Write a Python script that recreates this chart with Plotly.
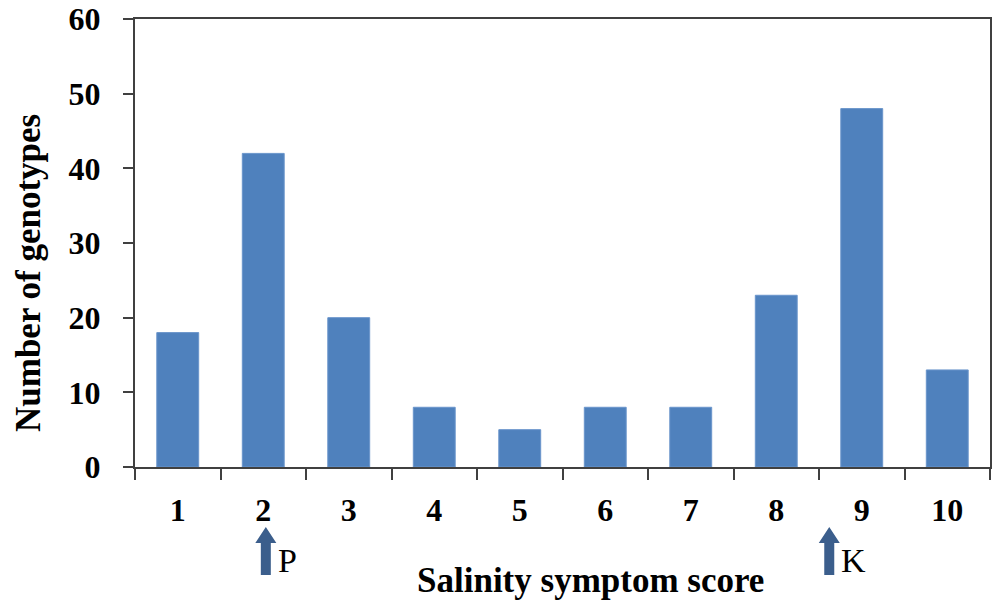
import plotly.graph_objects as go

scores = ["1", "2", "3", "4", "5", "6", "7", "8", "9", "10"]
genotypes = [18, 42, 20, 8, 5, 8, 8, 23, 48, 13]
y_ticks = [0, 10, 20, 30, 40, 50, 60]
parents = ["P", "K"]
parent_pos = [1.03, 7.62]  # category index positions under the axis

FONT = "Liberation Serif"
LINE = "#404040"
ARROW = "#3B5E8C"

fig = go.Figure()
fig.add_trace(go.Bar(
    x=scores, y=genotypes,
    marker=dict(color="#4F81BD", line=dict(color="#6A95CB", width=1)),
))

W, H = 1000, 610
L, R, T, B = 135, 10, 19, 143
pw, ph = W - L - R, H - T - B

def py(pix):
    return (H - B - pix) / ph

shapes = []
annotations = []
xper = len(scores) / pw  # data units per pixel
for name, xp in zip(parents, parent_pos):
    hs, hh = 5 * xper, 10.5 * xper
    tip, base, bot = py(527), py(543), py(575)
    path = (f"M {xp-hs} {bot} L {xp-hs} {base} L {xp-hh} {base} L {xp} {tip} "
            f"L {xp+hh} {base} L {xp+hs} {base} L {xp+hs} {bot} Z")
    shapes.append(dict(type="path", xref="x", yref="paper", path=path,
                       fillcolor=ARROW, line=dict(width=0)))
    annotations.append(dict(x=xp + 10 * xper, y=py(560), xref="x", yref="paper",
                            text=name, showarrow=False, xanchor="left",
                            yanchor="middle",
                            font=dict(family=FONT, size=34, color="black")))

annotations.append(dict(x=(590 - L) / pw, y=py(580), xref="paper", yref="paper",
                        text="<b>Salinity symptom score</b>", showarrow=False,
                        xanchor="center", yanchor="middle",
                        font=dict(family=FONT, size=35, color="black")))
annotations.append(dict(x=(28 - L) / pw, y=py(273), xref="paper", yref="paper",
                        text="<b>Number of genotypes</b>", showarrow=False,
                        textangle=-90, xanchor="center", yanchor="middle",
                        font=dict(family=FONT, size=35, color="black")))

fig.update_layout(
    width=W, height=H,
    margin=dict(l=L, r=R, t=T, b=B, autoexpand=False),
    plot_bgcolor="white", paper_bgcolor="white",
    bargap=0.51,
    showlegend=False,
    shapes=shapes,
    annotations=annotations,
    xaxis=dict(
        type="category", tickson="boundaries", ticks="outside", ticklen=11,
        tickwidth=2, tickcolor=LINE, showline=True, linecolor=LINE, linewidth=2,
        mirror=True, showgrid=False, ticklabelstandoff=14, automargin=False,
        tickfont=dict(family=FONT, size=32, color="black", weight="bold"),
    ),
    yaxis=dict(
        range=[0, 60], tickvals=y_ticks, ticks="outside", ticklen=10,
        tickwidth=2, tickcolor=LINE, showline=True, linecolor=LINE, linewidth=2,
        mirror=True, showgrid=False, zeroline=False, ticklabelstandoff=16,
        automargin=False,
        tickfont=dict(family=FONT, size=32, color="black", weight="bold"),
    ),
)

fig.write_html("out.html", config={"displayModeBar": False},
               post_script="document.body.style.margin='0';")
